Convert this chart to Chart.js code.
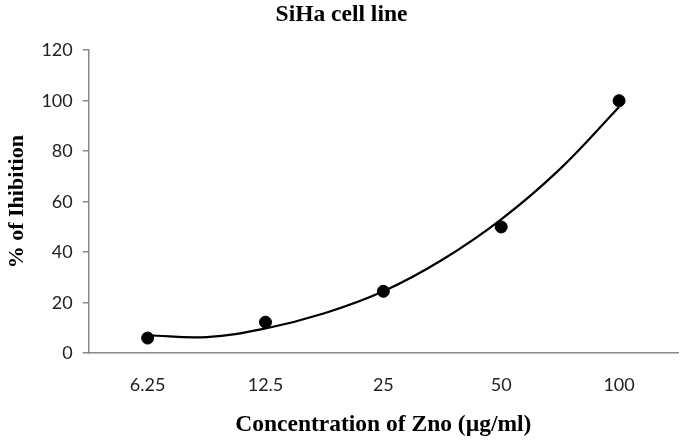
<!DOCTYPE html>
<html>
<head>
<meta charset="utf-8">
<script src="https://cdn.jsdelivr.net/npm/chart.js@4/dist/chart.umd.min.js"></script>
<style>
  html, body { margin: 0; padding: 0; background: #fff; }
  #wrap { width: 685px; height: 442px; }
</style>
</head>
<body>
<div id="wrap"><canvas id="siha"></canvas></div>
<script>
  // data
  var concentrations = ['6.25', '12.5', '25', '50', '100'];
  var inhibition = [6, 12.3, 24.5, 50, 100];
  // trend curve, read at half steps between the categories
  var trendPos = [1, 1.5, 2, 2.5, 3, 3.5, 4, 4.5, 5];
  var trendVal = [7.1, 6.4, 9.8, 15.8, 24.5, 37, 53, 73, 97.5];

  var points = concentrations.map(function(c, i) { return {x: i + 1, y: inhibition[i]}; });
  var trend = trendPos.map(function(p, i) { return {x: p, y: trendVal[i]}; });

  new Chart(document.getElementById('siha'), {
    type: 'scatter',
    data: {
      datasets: [
        {
          label: 'trend',
          data: trend,
          showLine: true,
          borderColor: '#000',
          borderWidth: 2.2,
          pointRadius: 0,
          tension: 0.4,
          order: 2
        },
        {
          label: 'SiHa',
          data: points,
          backgroundColor: '#000',
          borderColor: '#000',
          pointRadius: 6,
          order: 1
        }
      ]
    },
    options: {
      responsive: true,
      maintainAspectRatio: false,
      animation: false,
      layout: { padding: { top: 0, right: 2, bottom: 3, left: 0 } },
      plugins: {
        legend: { display: false },
        tooltip: { enabled: false },
        title: {
          display: true,
          text: 'SiHa cell line',
          color: '#000',
          font: { family: 'Liberation Serif', size: 23.5, weight: 'bold' },
          padding: { top: 1, bottom: 21 }
        }
      },
      scales: {
        x: {
          type: 'linear',
          min: 0.5,
          max: 5.5,
          afterBuildTicks: function(axis) {
            axis.ticks = concentrations.map(function(c, i) { return {value: i + 1}; });
          },
          ticks: {
            color: '#222',
            font: { family: 'Lato', size: 18 },
            padding: 13,
            callback: function(v) { return concentrations[Math.round(v) - 1]; }
          },
          grid: { display: false },
          border: { color: '#888', width: 1.5 },
          title: {
            display: true,
            text: 'Concentration of Zno (µg/ml)',
            color: '#000',
            font: { family: 'Liberation Serif', size: 23.5, weight: 'bold' },
            padding: { top: 2, bottom: 0 }
          }
        },
        y: {
          min: 0,
          max: 120,
          ticks: {
            stepSize: 20,
            color: '#222',
            font: { family: 'Lato', size: 18 },
            padding: 10
          },
          grid: { drawOnChartArea: false, tickLength: 6, color: '#888', lineWidth: 1.5 },
          border: { color: '#888', width: 1.5 },
          title: {
            display: true,
            text: '% of Ihibition',
            color: '#000',
            font: { family: 'Liberation Serif', size: 22, weight: 'bold' },
            padding: { bottom: 1 }
          }
        }
      }
    }
  });
</script>
</body>
</html>
